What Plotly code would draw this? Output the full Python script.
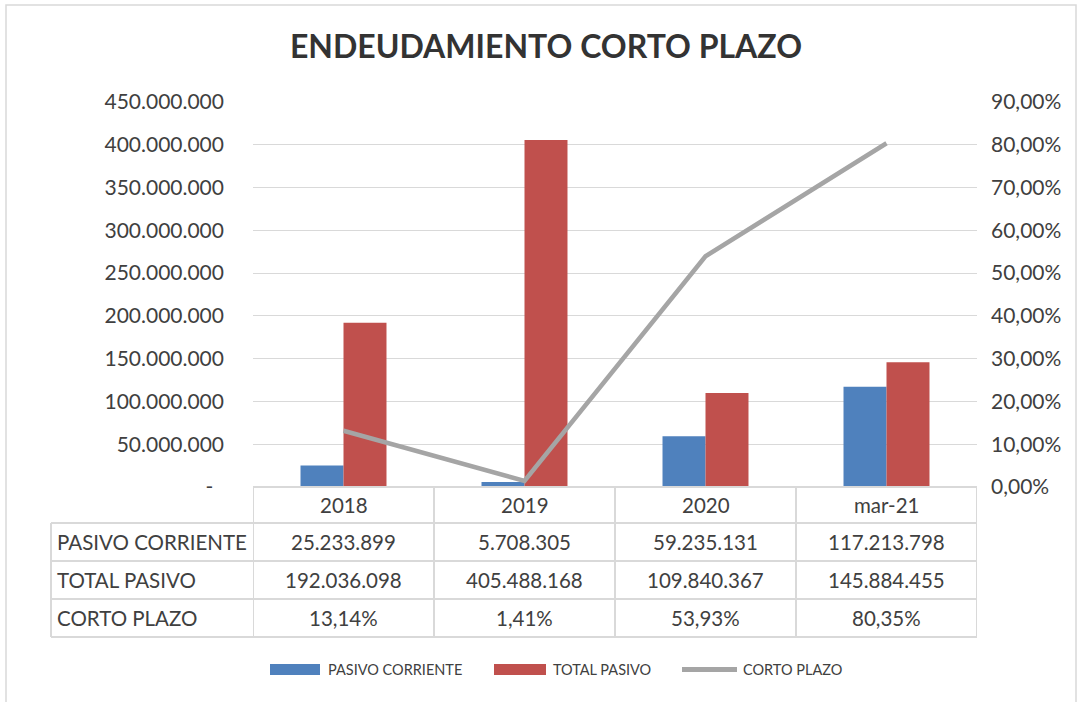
import plotly.graph_objects as go

W, H = 1081, 702

categories = ["2018", "2019", "2020", "mar-21"]
pasivo_corriente = [25233899, 5708305, 59235131, 117213798]
total_pasivo = [192036098, 405488168, 109840367, 145884455]
corto_plazo = [0.1314, 0.0141, 0.5393, 0.8035]

pc_text = ["25.233.899", "5.708.305", "59.235.131", "117.213.798"]
tp_text = ["192.036.098", "405.488.168", "109.840.367", "145.884.455"]
cp_text = ["13,14%", "1,41%", "53,93%", "80,35%"]

y_tickvals = [0, 50e6, 100e6, 150e6, 200e6, 250e6, 300e6, 350e6, 400e6, 450e6]
y_ticktext = ["-\u00a0\u00a0", "50.000.000", "100.000.000", "150.000.000", "200.000.000",
              "250.000.000", "300.000.000", "350.000.000", "400.000.000", "450.000.000"]
y2_tickvals = [0, 0.1, 0.2, 0.3, 0.4, 0.5, 0.6, 0.7, 0.8, 0.9]
y2_ticktext = ["0,00%", "10,00%", "20,00%", "30,00%", "40,00%", "50,00%",
               "60,00%", "70,00%", "80,00%", "90,00%"]

row_labels = ["PASIVO CORRIENTE", "TOTAL PASIVO", "CORTO PLAZO"]
legend_names = ["PASIVO CORRIENTE", "TOTAL PASIVO", "CORTO PLAZO"]

BLUE = "#4F81BD"
RED = "#C0504D"
GRAY = "#A5A5A5"
TXT = "#404040"
GRID = "#D9D9D9"
FONT = "Lato"

def px(x):
    return x / W

def py(y):
    return 1 - y / H

# plot area in pixels
PL, PR, PT, PB = 253, 977, 102, 487
row_edges = [487, 523, 561, 599, 637]
table_left = 51
n = len(categories)

fig = go.Figure()
fig.add_trace(go.Bar(x=categories, y=pasivo_corriente, name=legend_names[0],
                     marker=dict(color=BLUE, line=dict(width=0))))
fig.add_trace(go.Bar(x=categories, y=total_pasivo, name=legend_names[1],
                     marker=dict(color=RED, line=dict(width=0))))
fig.add_trace(go.Scatter(x=categories, y=corto_plazo, name=legend_names[2], yaxis="y2",
                         mode="lines", line=dict(color=GRAY, width=4.5)))

shapes = []
annotations = []

# chart frame
shapes.append(dict(type="rect", xref="paper", yref="paper", x0=px(6), x1=px(1076),
                   y0=py(712), y1=py(5), line=dict(color=GRID, width=1.5), layer="below"))

# table horizontal lines
for i, yy in enumerate(row_edges):
    x0 = PL if i == 0 else table_left
    shapes.append(dict(type="line", xref="paper", yref="paper", x0=px(x0), x1=px(PR),
                       y0=py(yy), y1=py(yy), line=dict(color=GRID, width=2)))
# table vertical lines (category boundaries)
for k in range(n + 1):
    shapes.append(dict(type="line", xref="x", yref="paper", x0=k - 0.5, x1=k - 0.5,
                       y0=py(row_edges[0]), y1=py(row_edges[-1]),
                       line=dict(color=GRID, width=2)))
shapes.append(dict(type="line", xref="paper", yref="paper", x0=px(table_left), x1=px(table_left),
                   y0=py(row_edges[1]), y1=py(row_edges[-1]), line=dict(color=GRID, width=2)))

# header row and cells (x given as category index)
rows = [categories, pc_text, tp_text, cp_text]
for r, vals in enumerate(rows):
    yc = (row_edges[r] + row_edges[r + 1]) / 2
    for ci, v in enumerate(vals):
        annotations.append(dict(x=ci, xref="x", y=py(yc), yref="paper", text=v,
                                showarrow=False, xanchor="center", yanchor="middle",
                                font=dict(family=FONT, size=20.5, color=TXT)))
for r, lab in enumerate(row_labels):
    yc = (row_edges[r + 1] + row_edges[r + 2]) / 2
    annotations.append(dict(x=px(55), xref="paper", y=py(yc), yref="paper", text=lab,
                            showarrow=False, xanchor="left", yanchor="middle",
                            font=dict(family=FONT, size=20.5, color=TXT)))

# legend (custom, Excel style)
LY = 669.5
shapes.append(dict(type="rect", xref="paper", yref="paper", x0=px(270), x1=px(320),
                   y0=py(675), y1=py(664), fillcolor=BLUE, line=dict(width=0)))
shapes.append(dict(type="rect", xref="paper", yref="paper", x0=px(494), x1=px(546),
                   y0=py(675), y1=py(664), fillcolor=RED, line=dict(width=0)))
shapes.append(dict(type="line", xref="paper", yref="paper", x0=px(682), x1=px(737),
                   y0=py(LY), y1=py(LY), line=dict(color=GRAY, width=5)))
for xx, name in zip([326, 551, 741], legend_names):
    annotations.append(dict(x=px(xx), xref="paper", y=py(LY), yref="paper", text=name,
                            showarrow=False, xanchor="left", yanchor="middle",
                            font=dict(family=FONT, size=14.5, color=TXT)))

fig.update_layout(
    width=W, height=H,
    margin=dict(l=0, r=0, t=0, b=0),
    paper_bgcolor="white", plot_bgcolor="white",
    title=dict(text="<b>ENDEUDAMIENTO CORTO PLAZO</b>", x=px(546), xanchor="center",
               y=py(47), yanchor="middle",
               font=dict(family=FONT, size=32, color="#333333")),
    barmode="group", bargap=0.525, bargroupgap=0,
    showlegend=False,
    xaxis=dict(type="category", categoryorder="array", categoryarray=categories,
               range=[-0.5, n - 0.5], autorange=False,
               domain=[px(PL), px(PR)], showticklabels=False, showgrid=False,
               zeroline=False, showline=False, fixedrange=True),
    yaxis=dict(domain=[py(PB), py(PT)], range=[0, 450e6], tickvals=y_tickvals,
               ticktext=y_ticktext, showgrid=True, gridcolor=GRID, gridwidth=1.3,
               zeroline=False, showline=False, ticks="", ticklabelstandoff=28,
               tickfont=dict(family=FONT, size=21, color=TXT), automargin=False),
    yaxis2=dict(domain=[py(PB), py(PT)], range=[0, 0.9], overlaying="y", side="right",
                tickvals=y2_tickvals, ticktext=y2_ticktext, showgrid=False,
                zeroline=False, showline=False, ticks="", ticklabelstandoff=13,
                tickfont=dict(family=FONT, size=21, color=TXT), automargin=False),
    shapes=shapes,
    annotations=annotations,
)

fig.write_html("out.html", config={"displayModeBar": False},
               post_script="document.body.style.margin='0';")
